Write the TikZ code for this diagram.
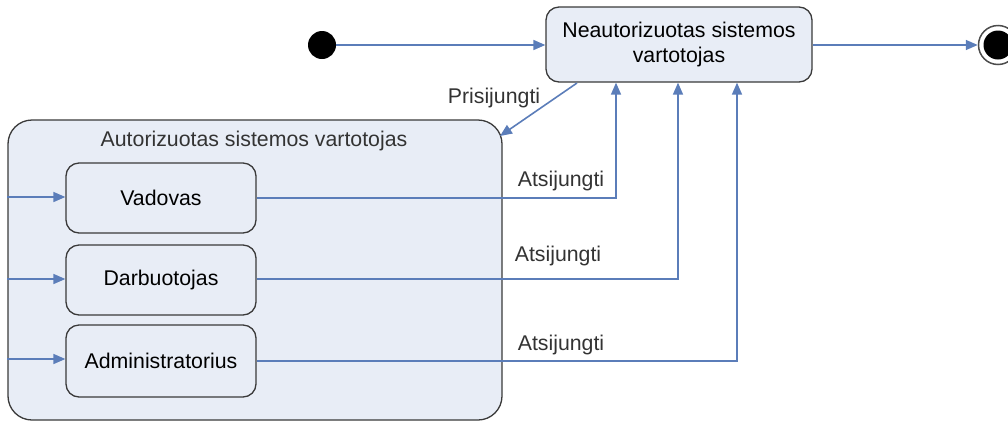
\documentclass[tikz,border=0pt]{standalone}
\usepackage{fontspec}
\setmainfont{Liberation Sans}
\usetikzlibrary{arrows.meta,calc}
\definecolor{linkblue}{HTML}{5B7DB9}
\definecolor{statefill}{HTML}{E8EDF6}
\definecolor{stateedge}{HTML}{3A3A3A}
\begin{document}
\begin{tikzpicture}[x=1pt,y=-1pt,
  font=\fontsize{21.3}{25}\selectfont,
  statebox/.style={draw=stateedge,line width=1.3pt,fill=statefill,rounded corners=13pt,
    align=center,inner sep=0pt},
  flow/.style={draw=linkblue,line width=1.6pt,-{Triangle[length=12pt,width=10pt]}},
  lbl/.style={text=black!80,inner sep=0pt}]
\useasboundingbox (0,0) rectangle (1008,421);

% top level states
\node[statebox,minimum width=266pt,minimum height=75pt] (nu) at (679,44.5)
  {Neautorizuotas sistemos\\vartotojas};
\node[circle,fill=black,minimum size=28pt,inner sep=0pt] (start) at (322,45) {};
\node[circle,draw=black!70,line width=1.5pt,fill=white,minimum size=39pt,inner sep=0pt] (final) at (998,45) {};
\fill[black] (final.center) circle (14.5pt);

% composite state
\node[statebox,rounded corners=24pt,minimum width=494pt,minimum height=300pt] (auth) at (255,270) {};
\node[lbl] (authtitle) at (254,141) {Autorizuotas sistemos vartotojas};

\node[statebox,minimum width=190pt,minimum height=70pt] (vad) at (161,198) {Vadovas};
\node[statebox,minimum width=190pt,minimum height=70pt] (darb) at (161,280) {Darbuotojas};
\node[statebox,minimum width=190pt,minimum height=72pt] (adm) at (161,361) {Administratorius};

% transitions
\draw[flow] (start) -- (nu.west |- start);
\draw[flow] (nu.east |- final) -- (final);

\coordinate (pfrom) at (577,83);
\coordinate (pto) at (500,136);
\draw[flow] (pfrom) -- (pto);
\node[lbl] (plbl) at (494,98) {Prisijungti};

\draw[flow] (auth.west |- 0,197) -- (vad.west |- 0,197);
\draw[flow] (auth.west |- 0,279) -- (darb.west |- 0,279);
\draw[flow] (auth.west |- 0,359) -- (adm.west |- 0,359);

\coordinate (c1) at (616,198);
\coordinate (c2) at (678,279);
\coordinate (c3) at (737,361);
\draw[flow] (vad.east |- c1) -- (c1) -- (c1 |- nu.south);
\draw[flow] (darb.east |- c2) -- (c2) -- (c2 |- nu.south);
\draw[flow] (adm.east |- c3) -- (c3) -- (c3 |- nu.south);

\node[lbl] (a1) at (561,181) {Atsijungti};
\node[lbl] (a2) at (558,256) {Atsijungti};
\node[lbl] (a3) at (561,345) {Atsijungti};
\end{tikzpicture}
\end{document}
